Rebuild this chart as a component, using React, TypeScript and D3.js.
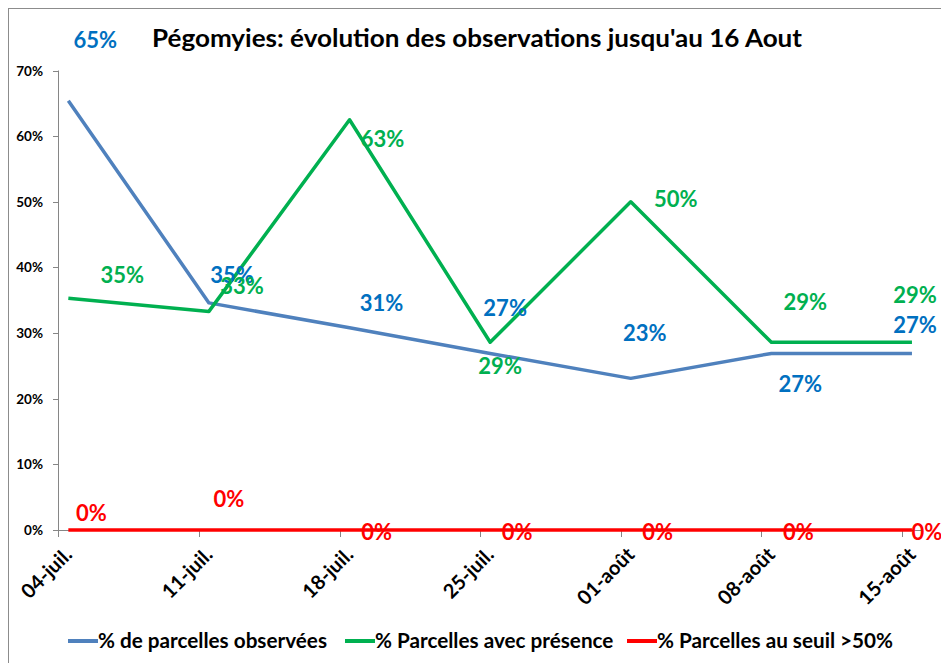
import * as d3 from 'd3';
import * as React from 'react';

// semaines d'observation (dates réelles pour l'axe temporel)
const dates = ['2013-07-04', '2013-07-11', '2013-07-18', '2013-07-25', '2013-08-01', '2013-08-08', '2013-08-15'];
const dateLabels = ['04-juil.', '11-juil.', '18-juil.', '25-juil.', '01-août', '08-août', '15-août'];

const observees = [0.654, 0.346, 0.308, 0.269, 0.231, 0.269, 0.269];
const presence = [0.353, 0.333, 0.625, 0.286, 0.5, 0.286, 0.286];
const seuil = [0, 0, 0, 0, 0, 0, 0];

const yTicks = [0, 0.1, 0.2, 0.3, 0.4, 0.5, 0.6, 0.7];

const seriesNames = ['% de parcelles observées', '% Parcelles avec présence', '% Parcelles au seuil >50%'];

// décalage des étiquettes (placées à la main dans le classeur)
const labelShift = [
  [[27, -61], [23, -28], [32, -25], [15, -45], [14, -45], [29, 31], [3, -28]],
  [[54, -23], [33, -25], [33, 19], [10, 24], [45, -3], [34, -40], [3, -47]],
  [[23, -17], [20, -31], [27, 2], [27, 2], [27, 2], [27, 2], [15, 2]],
];

const W = 941;
const H = 663;
const FONT = 'Lato, "Open Sans", sans-serif';

export default function App() {
  const parse = d3.utcParse('%Y-%m-%d');
  const days = dates.map(d => parse(d) as Date);
  const x = d3.scaleUtc()
    .domain([days[0], d3.utcDay.offset(days[days.length - 1], 1)])
    .range([58.3, 922]);
  // points au milieu du jour
  const px = (i: number) => x(d3.utcHour.offset(days[i], 12));
  const y = d3.scaleLinear().domain([0, 0.7]).range([530, 70.5]);
  const pct = d3.format('.0%');

  const series = [
    { values: observees, line: '#4F81BD', text: '#0070C0' },
    { values: presence, line: '#00B050', text: '#00B050' },
    { values: seuil, line: '#FF0000', text: '#FF0000' },
  ];

  const line = d3.line<number>()
    .x((_, i) => px(i))
    .y(v => y(v));

  const legendX = [68, 345, 627];

  return (
    <svg width={W} height={H} style={{ position: 'absolute', left: 0, top: 0 }} fontFamily={FONT}>
      <rect x={0} y={0} width={W} height={H} fill="#fff" />
      <rect x={8.5} y={8.5} width={W + 20} height={H + 20} fill="none" stroke="#8c8c8c" strokeWidth={1} />

      <text x={477} y={47} textAnchor="middle" fontSize={25} fontWeight="bold" fill="#000"
        textLength={650} lengthAdjust="spacingAndGlyphs">
        Pégomyies: évolution des observations jusqu'au 16 Aout
      </text>

      {/* axe Y */}
      <line x1={58.5} x2={58.5} y1={y(0.7)} y2={y(0)} stroke="#868686" />
      {yTicks.map(t => (
        <g key={t}>
          <line x1={53} x2={58.5} y1={Math.round(y(t)) + 0.5} y2={Math.round(y(t)) + 0.5} stroke="#868686" />
          <text x={43} y={y(t) + 5} textAnchor="end" fontSize={13.5} fontWeight="bold" fill="#000">{pct(t)}</text>
        </g>
      ))}

      {/* axe X */}
      <line x1={58.3} x2={922} y1={530.5} y2={530.5} stroke="#868686" />
      {days.map((d, i) => (
        <g key={i}>
          <line x1={Math.round(x(d)) + 0.5} x2={Math.round(x(d)) + 0.5} y1={530} y2={537} stroke="#868686" />
          <text transform={`translate(${x(d) + 15},${556}) rotate(-45)`} textAnchor="end"
            fontSize={20} fontWeight="bold" fill="#000">{dateLabels[i]}</text>
        </g>
      ))}

      {series.map((s, k) => (
        <path key={k} d={line(s.values) || ''} fill="none" stroke={s.line} strokeWidth={3.5} strokeLinejoin="round" />
      ))}

      {series.map((s, k) => s.values.map((v, i) => (
        <text key={`${k}-${i}`} x={px(i) + labelShift[k][i][0]} y={y(v) + labelShift[k][i][1] + 8}
          textAnchor="middle" fontSize={22} fontWeight="bold" fill={s.text}>{pct(v)}</text>
      )))}

      {/* légende */}
      {series.map((s, k) => (
        <g key={k}>
          <line x1={legendX[k]} x2={legendX[k] + 30} y1={641} y2={641} stroke={s.line} strokeWidth={4} />
          <text x={legendX[k] + 30} y={648} fontSize={20.7} fontWeight="bold" fill="#000">{seriesNames[k]}</text>
        </g>
      ))}
    </svg>
  );
}
